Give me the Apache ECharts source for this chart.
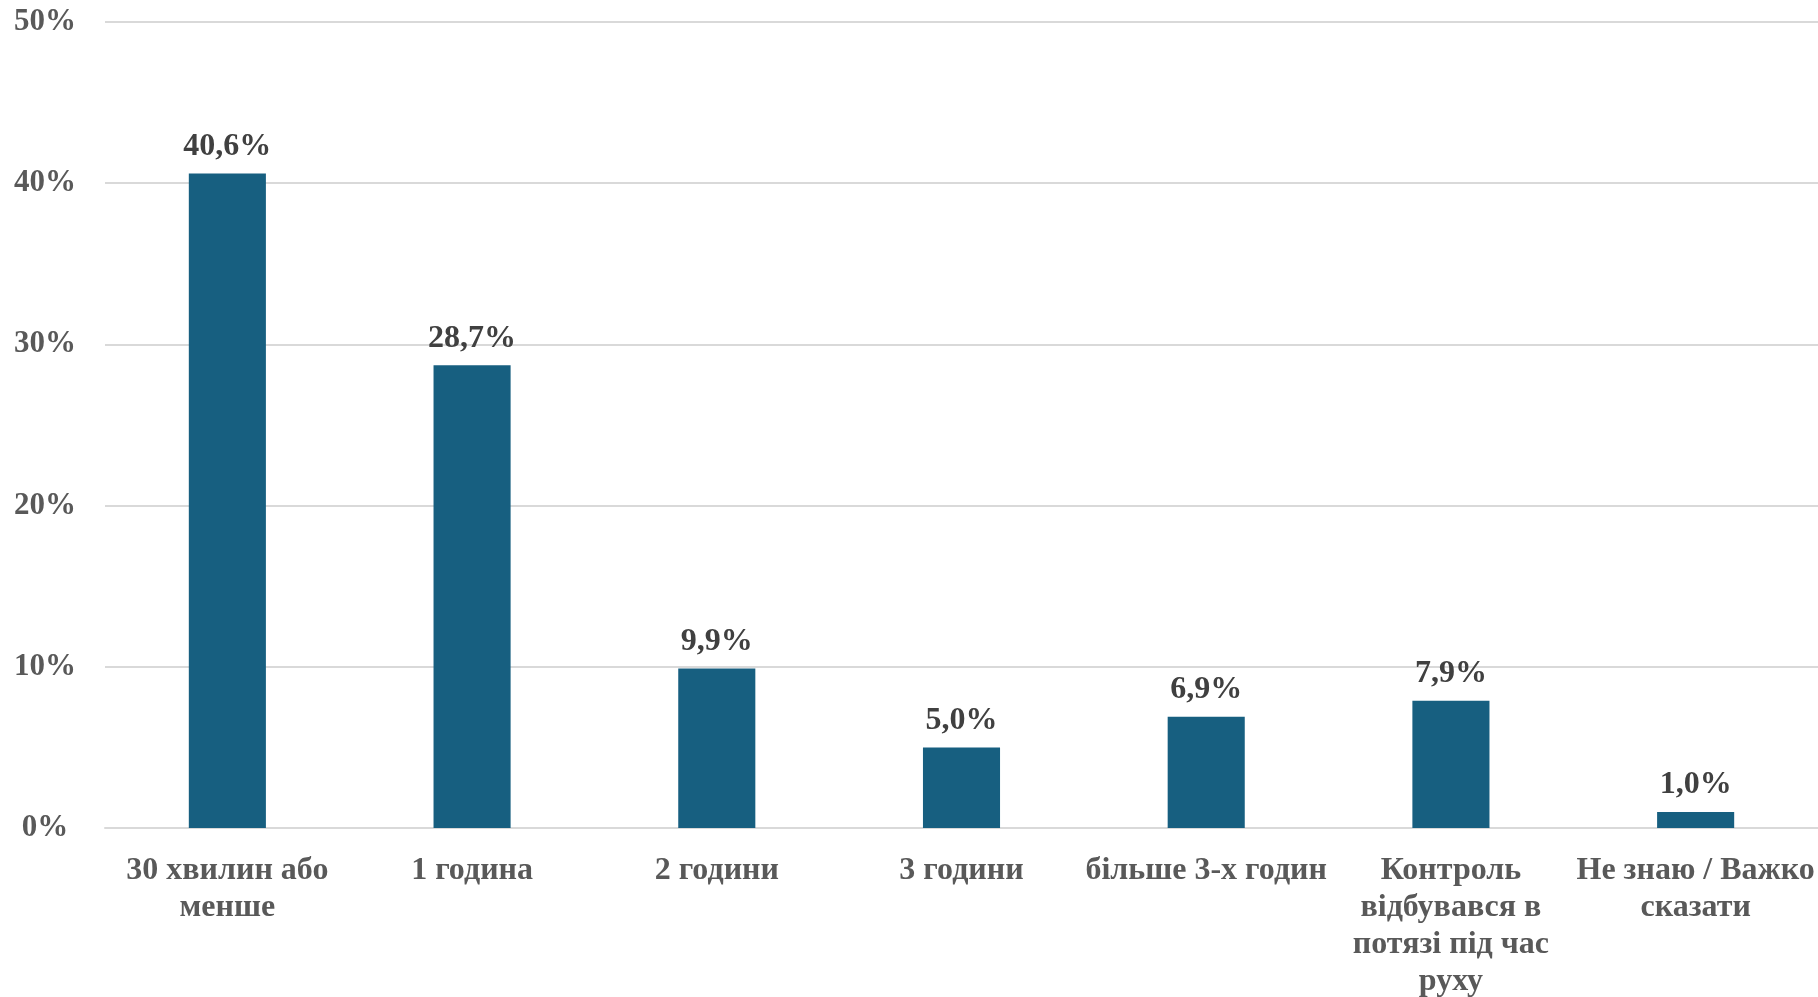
<!DOCTYPE html>
<html><head><meta charset="utf-8">
<script src="https://cdn.jsdelivr.net/npm/echarts@6/dist/echarts.min.js"></script>
<style>html,body{margin:0;padding:0;background:#fff}#c{width:1818px;height:997px}</style>
</head><body><div id="c"></div>
<script>
const categories = ['30 хвилин або\nменше', '1 година', '2 години', '3 години', 'більше 3-х годин', 'Контроль\nвідбувався в\nпотязі під час\nруху', 'Не знаю / Важко\nсказати'];
const values = [40.6, 28.7, 9.9, 5.0, 6.9, 7.9, 1.0];
const yTicks = [0, 10, 20, 30, 40, 50];

const font = '"Liberation Serif", "Times New Roman", serif';
const chart = echarts.init(document.getElementById('c'), null, {renderer: 'canvas'});
chart.setOption({
  animation: false,
  backgroundColor: '#ffffff',
  grid: {left: 105, right: 0, top: 22, bottom: 169, containLabel: false, outerBoundsMode: 'none'},
  xAxis: {
    type: 'category', data: categories,
    axisLine: {show: true, lineStyle: {color: '#d9d9d9', width: 2}},
    axisTick: {show: false},
    axisLabel: {interval: 0, margin: 24, fontFamily: font, fontWeight: 'bold', fontSize: 32, lineHeight: 37, color: '#595959', align: 'center'}
  },
  yAxis: {
    type: 'value', min: yTicks[0], max: yTicks[yTicks.length - 1], interval: 10,
    axisLine: {show: false}, axisTick: {show: false},
    splitLine: {lineStyle: {color: '#d9d9d9', width: 2}},
    axisLabel: {formatter: v => v + '%', margin: 60, align: 'center', fontFamily: font, fontWeight: 'bold', fontSize: 31, color: '#595959'}
  },
  series: [{
    type: 'bar', data: values, barWidth: '31.5%',
    itemStyle: {color: '#175f80'},
    label: {show: true, position: 'top', distance: 11, formatter: p => p.value.toFixed(1).replace('.', ',') + '%',
      fontFamily: font, fontWeight: 'bold', fontSize: 32, color: '#404040'}
  }]
});
</script></body></html>
